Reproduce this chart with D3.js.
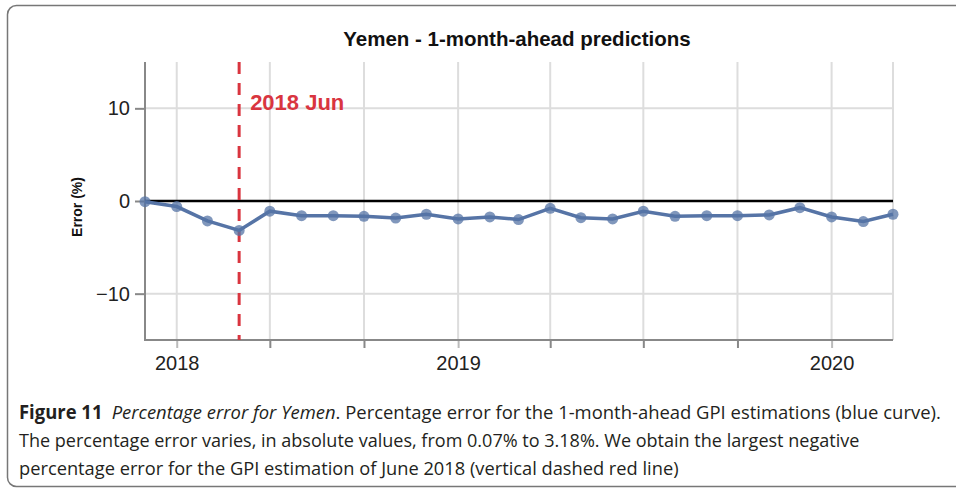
<!DOCTYPE html>
<html>
<head>
<meta charset="utf-8">
<script src="https://cdn.jsdelivr.net/npm/d3@7"></script>
<style>
    body { margin: 0; background: #fff; }
    svg { display: block; }
</style>
</head>
<body>
<script>
// data
const months = [
    '2018-03', '2018-04', '2018-05', '2018-06', '2018-07', '2018-08', '2018-09',
    '2018-10', '2018-11', '2018-12', '2019-01', '2019-02', '2019-03', '2019-04',
    '2019-05', '2019-06', '2019-07', '2019-08', '2019-09', '2019-10', '2019-11',
    '2019-12', '2020-01', '2020-02', '2020-03'
]
const errors = [
    -0.07, -0.6, -2.15, -3.18, -1.1, -1.58, -1.58,
    -1.65, -1.84, -1.43, -1.94, -1.72, -2.0, -0.79,
    -1.8, -1.94, -1.1, -1.65, -1.58, -1.58, -1.5,
    -0.72, -1.72, -2.22, -1.43
]
const yTicks = [10, 0, -10]
const xTickMonths = ['2018-04', '2018-07', '2018-10', '2019-01', '2019-04', '2019-07', '2019-10', '2020-01']
const xTickLabels = ['2018', '', '', '2019', '', '', '', '2020']
const markerMonth = '2018-06'
const markerLabel = '2018 Jun'
const title = 'Yemen - 1-month-ahead predictions'
const yLabel = 'Error (%)'

const parseMonth = d3.timeParse('%Y-%m')
const data = months.map((m, i) => ({date: parseMonth(m), error: errors[i]}))

// dims
const width = 956
const height = 492
const margin = {left: 145, right: 63, top: 62, bottom: 152}
const innerRight = width - margin.right
const innerBottom = height - margin.bottom
const chartFont = "'Liberation Sans', Arimo, Arial, Helvetica, Roboto, sans-serif"

const svg = d3.select('body').append('svg')
    .attr('width', width)
    .attr('height', height)

// frame
svg.append('rect')
    .attr('x', 7.5)
    .attr('y', 5.5)
    .attr('width', 1000)
    .attr('height', 481)
    .attr('rx', 9)
    .attr('fill', 'none')
    .attr('stroke', '#777')
    .attr('stroke-width', 1.5)

// scales
const x = d3.scaleTime()
    .domain(d3.extent(data, d => d.date))
    .range([margin.left, innerRight])

const y = d3.scaleLinear()
    .domain([-15, 15])
    .range([innerBottom, margin.top])

// grid
const xTickDates = xTickMonths.map(parseMonth)
svg.append('g')
    .selectAll('line')
    .data(xTickDates)
    .join('line')
    .attr('x1', d => x(d)).attr('x2', d => x(d))
    .attr('y1', margin.top).attr('y2', innerBottom)
    .attr('stroke', '#ddd')
    .attr('stroke-width', 2)

svg.append('g')
    .selectAll('line')
    .data(yTicks)
    .join('line')
    .attr('x1', margin.left).attr('x2', innerRight)
    .attr('y1', d => y(d)).attr('y2', d => y(d))
    .attr('stroke', '#ddd')
    .attr('stroke-width', 2)

svg.append('line')
    .attr('x1', innerRight).attr('x2', innerRight)
    .attr('y1', margin.top).attr('y2', innerBottom)
    .attr('stroke', '#ddd')
    .attr('stroke-width', 2)

// axes
const yAxis = svg.append('g')
    .attr('transform', `translate(${margin.left},0)`)
    .call(d3.axisLeft(y).tickValues(yTicks).tickSize(10).tickPadding(5).tickFormat(d3.format('d')))
yAxis.select('.domain').remove()
yAxis.selectAll('.tick line').attr('stroke', '#888').attr('stroke-width', 2)
yAxis.selectAll('.tick text')
    .attr('font-family', chartFont)
    .attr('font-size', 20)
    .attr('fill', '#222')

const xAxis = svg.append('g')
    .attr('transform', `translate(0,${innerBottom})`)
    .call(d3.axisBottom(x).tickValues(xTickDates).tickSize(8).tickPadding(8)
        .tickFormat((d, i) => xTickLabels[i]))
xAxis.select('.domain').remove()
xAxis.selectAll('.tick line')
    .attr('stroke', (d, i) => xTickLabels[i] ? '#bbb' : '#888')
    .attr('stroke-width', 2)
xAxis.selectAll('.tick text')
    .attr('font-family', chartFont)
    .attr('font-size', 20)
    .attr('fill', '#222')

// axis lines
svg.append('line')
    .attr('x1', margin.left).attr('x2', margin.left)
    .attr('y1', margin.top).attr('y2', innerBottom + 1)
    .attr('stroke', '#888')
    .attr('stroke-width', 2)
svg.append('line')
    .attr('x1', margin.left - 1).attr('x2', innerRight)
    .attr('y1', innerBottom).attr('y2', innerBottom)
    .attr('stroke', '#888')
    .attr('stroke-width', 2)

// zero line
svg.append('line')
    .attr('x1', margin.left).attr('x2', innerRight)
    .attr('y1', y(0)).attr('y2', y(0))
    .attr('stroke', '#000')
    .attr('stroke-width', 2.5)

// marker
const markerX = x(parseMonth(markerMonth))
svg.append('line')
    .attr('x1', markerX).attr('x2', markerX)
    .attr('y1', margin.top).attr('y2', innerBottom)
    .attr('stroke', '#d9353f')
    .attr('stroke-width', 3)
    .attr('stroke-dasharray', '12,9')

svg.append('text')
    .attr('x', markerX + 11)
    .attr('y', y(10) + 2)
    .attr('font-family', chartFont)
    .attr('font-size', 22)
    .attr('font-weight', 'bold')
    .attr('fill', '#d9353f')
    .text(markerLabel)

// series
const line = d3.line()
    .x(d => x(d.date))
    .y(d => y(d.error))

svg.append('path')
    .datum(data)
    .attr('fill', 'none')
    .attr('stroke', '#5674a6')
    .attr('stroke-width', 3.5)
    .attr('d', line)

svg.append('g')
    .selectAll('circle')
    .data(data)
    .join('circle')
    .attr('cx', d => x(d.date))
    .attr('cy', d => y(d.error))
    .attr('r', 5.5)
    .attr('fill', '#5674a6')
    .attr('fill-opacity', 0.75)

// titles
svg.append('text')
    .attr('x', 517)
    .attr('y', 46)
    .attr('text-anchor', 'middle')
    .attr('font-family', chartFont)
    .attr('font-size', 20.5)
    .attr('font-weight', 'bold')
    .attr('fill', '#111')
    .text(title)

svg.append('text')
    .attr('transform', `translate(82,${y(0) + 6}) rotate(-90)`)
    .attr('text-anchor', 'middle')
    .attr('font-family', chartFont)
    .attr('font-size', 14)
    .attr('font-weight', 'bold')
    .attr('fill', '#111')
    .text(yLabel)

// caption (condensed: squeeze each line to the width it has in the figure)
const captionFont = "'Liberation Sans Narrow', 'Open Sans', sans-serif"
const captionLines = [
    {y: 419, width: 922, parts: [
        {t: 'Figure 11', w: 'bold', s: 'normal'},
        {t: '\u2002', w: 'normal', s: 'normal'},
        {t: 'Percentage error for Yemen', w: 'normal', s: 'italic'},
        {t: '. Percentage error for the 1-month-ahead GPI estimations (blue curve).', w: 'normal', s: 'normal'}
    ]},
    {y: 447, width: 841, parts: [
        {t: 'The percentage error varies, in absolute values, from 0.07% to 3.18%. We obtain the largest negative', w: 'normal', s: 'normal'}
    ]},
    {y: 475, width: 660, parts: [
        {t: 'percentage error for the GPI estimation of June 2018 (vertical dashed red line)', w: 'normal', s: 'normal'}
    ]}
]

captionLines.forEach(l => {
    const g = svg.append('g')
    const txt = g.append('text')
        .attr('x', 0)
        .attr('y', 0)
        .attr('font-family', captionFont)
        .attr('font-size', 19)
        .attr('fill', '#231f20')
    l.parts.forEach(p => {
        txt.append('tspan')
            .attr('font-weight', p.w)
            .attr('font-style', p.s)
            .text(p.t)
    })
    const natural = txt.node().getComputedTextLength()
    g.attr('transform', `translate(19,${l.y}) scale(${l.width / natural},1)`)
})
</script>
</body>
</html>
